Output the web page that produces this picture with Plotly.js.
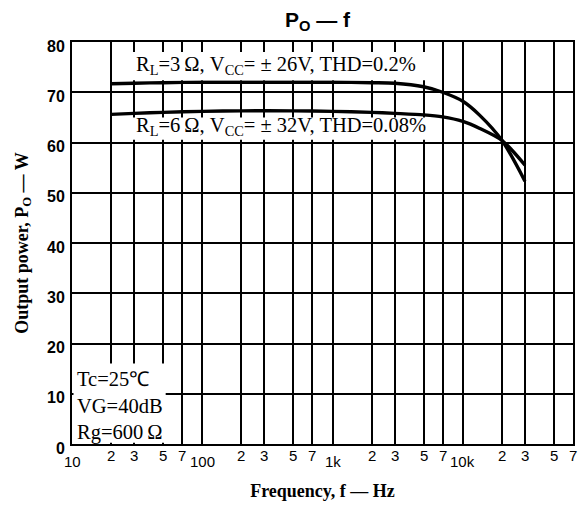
<!DOCTYPE html>
<html>
<head>
<meta charset="utf-8">
<script src="https://cdn.plot.ly/plotly-3.0.1.min.js"></script>
<style>
  html, body { margin: 0; padding: 0; background: #fff; }
  #chart { width: 586px; height: 505px; }
</style>
</head>
<body>
<div id="chart"></div>
<script>
// Output power vs. frequency for two load / supply conditions
const freqHz = [20, 30, 50, 100, 200, 500, 1000, 2000, 3000, 5000, 7000, 10000, 13500, 20000, 30000];
const powerRL3 = [71.7, 71.8, 71.9, 72.0, 72.0, 72.0, 72.0, 71.9, 71.8, 71.1, 70.0, 68.2, 65.4, 60.4, 52.3];
const powerRL6 = [65.6, 65.8, 66.0, 66.2, 66.3, 66.3, 66.2, 66.0, 65.8, 65.5, 65.1, 64.2, 62.8, 60.4, 55.5];

const seriesNames = ['R<sub>L</sub>=3\u2009\u03A9, V<sub>CC</sub>= \u00B1 26V, THD=0.2%',
                     'R<sub>L</sub>=6\u2009\u03A9, V<sub>CC</sub>= \u00B1 32V, THD=0.08%'];
const seriesLabelAt = [{f: 30, p: 75.3}, {f: 30, p: 63.1}];

// grid / tick positions on the frequency axis
const minorVals = [20, 30, 50, 70, 200, 300, 500, 700, 2000, 3000, 5000, 7000, 20000, 30000, 50000, 70000];
const minorText = ['2', '3', '5', '7', '2', '3', '5', '7', '2', '3', '5', '7', '2', '3', '5', '7'];
const decadeVals = [10, 100, 1000, 10000];
const decadeText = ['10', '100', '1k', '10k'];

const powerTicks = [0, 10, 20, 30, 40, 50, 60, 70, 80];

const conditionsText = 'Tc=25\u2103<br>VG=40dB<br>Rg=600\u2009\u03A9';

const serif = 'Liberation Serif, Times New Roman, serif';
const sans = 'Liberation Sans, Arial, sans-serif';

const traces = [powerRL3, powerRL6].map(p => ({
  x: freqHz,
  y: p,
  type: 'scatter',
  mode: 'lines',
  line: {color: '#000', width: 3.4, shape: 'spline', smoothing: 0.8},
  showlegend: false,
  hoverinfo: 'x+y'
}));

const gridVals = decadeVals.concat(minorVals).sort((a, b) => a - b);

const annotations = [];
// frequency labels: single digits sit right under the axis, decades a bit lower
minorVals.forEach((v, i) => {
  annotations.push({
    x: Math.log10(v), xref: 'x', y: 0, yref: 'paper',
    xanchor: 'center', yanchor: 'top', yshift: -1,
    text: minorText[i], showarrow: false,
    font: {family: sans, size: 15, color: '#000'}
  });
});
decadeVals.forEach((v, i) => {
  annotations.push({
    x: Math.log10(v), xref: 'x', y: 0, yref: 'paper',
    xanchor: 'center', yanchor: 'top', yshift: -7,
    text: decadeText[i], showarrow: false,
    font: {family: sans, size: 15, color: '#000'}
  });
});
seriesNames.forEach((t, i) => {
  annotations.push({
    x: Math.log10(seriesLabelAt[i].f), xref: 'x', y: seriesLabelAt[i].p, yref: 'y',
    xanchor: 'left', yanchor: 'middle',
    text: t, showarrow: false,
    font: {family: serif, size: 20.5, color: '#000'}
  });
});
annotations.push({
  x: 0, xref: 'paper', y: 0.195, yref: 'paper',
  xanchor: 'left', yanchor: 'top', xshift: 3, align: 'left',
  text: conditionsText, showarrow: false,
  font: {family: serif, size: 20.5, color: '#000'}
});

// white panels that hide the grid behind the text blocks
const panel = (x0, x1, y0, y1) => ({
  type: 'rect', xref: 'paper', yref: 'paper', x0, x1, y0, y1,
  fillcolor: '#fff', line: {width: 0}, layer: 'above'
});

const layout = {
  width: 586, height: 505,
  margin: {l: 72, r: 13, t: 42, b: 61},
  paper_bgcolor: '#fff', plot_bgcolor: '#fff',
  title: {
    text: '<b>P<sub>O</sub> \u2014 f</b>',
    x: 0.49, xref: 'paper', y: 0.962, yref: 'container', yanchor: 'middle',
    font: {family: sans, size: 21, color: '#000'}
  },
  xaxis: {
    type: 'log',
    range: [1, Math.log10(70000) + 0.0006],
    tickmode: 'array', tickvals: gridVals, ticktext: gridVals.map(() => ''),
    ticks: '', showgrid: true, gridcolor: '#000', gridwidth: 2,
    showline: true, linecolor: '#000', linewidth: 2, mirror: true,
    zeroline: false,
    tickfont: {family: sans, size: 15, color: '#000'},
    title: {text: '<b>Frequency, f \u2014 Hz</b>', standoff: 36,
            font: {family: serif, size: 18, color: '#000'}},
    automargin: false, fixedrange: true
  },
  yaxis: {
    range: [0, 80],
    tickmode: 'array', tickvals: powerTicks,
    ticks: '', showgrid: true, gridcolor: '#000', gridwidth: 2,
    showline: true, linecolor: '#000', linewidth: 2, mirror: true,
    zeroline: false,
    tickfont: {family: sans, size: 16, color: '#000', weight: 'bold'},
    ticklabelstandoff: 2, ticklabelshift: 4,
    title: {text: '<b>Output power, P<sub>O</sub> \u2014 W</b>', standoff: 14,
            font: {family: serif, size: 18, color: '#000'}},
    automargin: false, fixedrange: true
  },
  shapes: [
    panel(0.096, 0.719, 0.905, 0.975),
    panel(0.096, 0.716, 0.757, 0.812),
    panel(0.003, 0.187, 0.003, 0.2)
  ],
  annotations: annotations
};

Plotly.newPlot('chart', traces, layout, {displayModeBar: false, staticPlot: true});
</script>
</body>
</html>
